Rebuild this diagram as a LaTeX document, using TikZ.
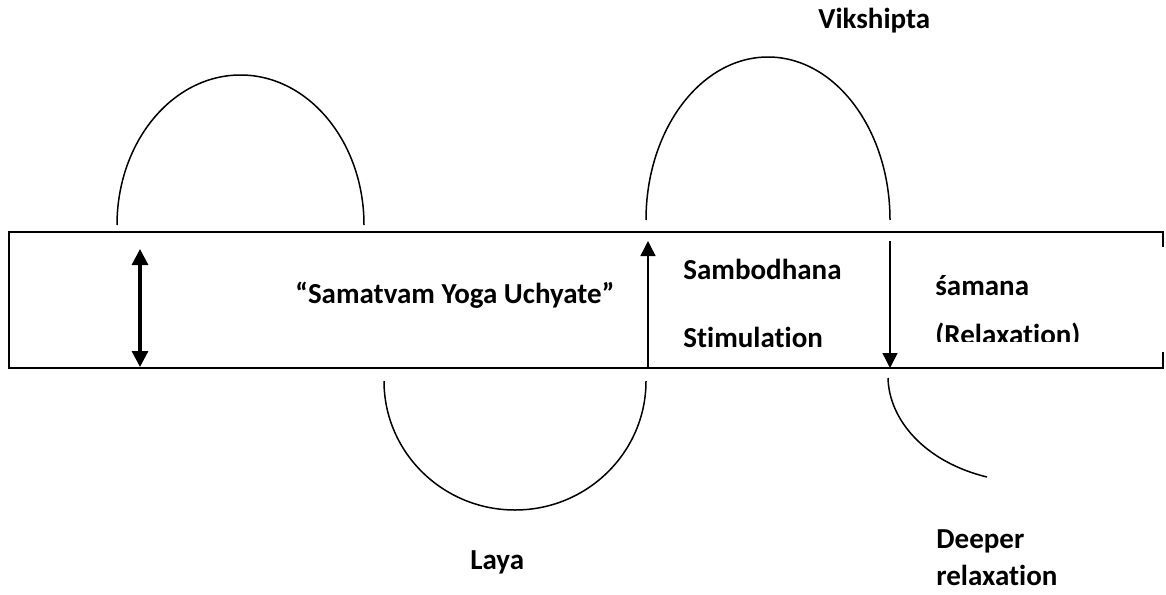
\documentclass[tikz,border=0pt]{standalone}
\usepackage{fontspec}
\setmainfont{Carlito}[Ligatures=NoCommon]
\usetikzlibrary{arrows.meta}
\begin{document}
\begin{tikzpicture}[x=0.5pt,y=-0.5pt,
  lbl/.style={font=\bfseries\fontsize{14.5}{17}\selectfont, inner sep=0pt, anchor=base west},
  wave/.style={line width=0.75pt},
  boxline/.style={line width=1pt},
  thinarrow/.style={line width=0.75pt, -{Triangle[length=7.5pt,width=7.5pt]}},
  thickarrow/.style={line width=1.6pt, {Triangle[length=8pt,width=8pt]}-{Triangle[length=8pt,width=8pt]}}]
\useasboundingbox (0,0) rectangle (1166,594);

% band (its right side is cut off)
\draw[boxline] (1163,247) -- (1163,232) -- (9,232) -- (9,368) -- (1163,368) -- (1163,352);

% waves
\draw[wave] (117,225) arc[start angle=180, end angle=0, x radius=61.75pt, y radius=75pt];
\draw[wave] (384,381) arc[start angle=180, end angle=360, x radius=65.5pt, y radius=64.5pt];
\draw[wave] (646,220) arc[start angle=180, end angle=0, x radius=61pt, y radius=81.5pt];
\coordinate (c0) at (888,378);
\coordinate (c1) at (987,477);
\draw[wave] (c0) .. controls (889,420) and (925,462) .. (c1);

% arrows
\coordinate (d0) at (140,249);
\coordinate (d1) at (140,367);
\draw[thickarrow] (d0) -- (d1);
\coordinate (u0) at (648,368);
\coordinate (u1) at (648,241);
\draw[thinarrow] (u0) -- (u1);
\coordinate (w0) at (890,241);
\coordinate (w1) at (890,368);
\draw[thinarrow] (w0) -- (w1);

% labels
\node[lbl] (vik) at (818,28) {Vikshipta};
\node[lbl] (sam) at (295,303) {“Samatvam Yoga Uchyate”};
\node[lbl] (samb) at (683,279) {Sambodhana};
\node[lbl] (stim) at (683,347) {Stimulation};
\node[lbl] (sama) at (935,295) {śamana};
\begin{scope}
  \clip (900,300) rectangle (1160,341);
  \node[lbl] (relax) at (935,344) {(Relaxation)};
\end{scope}
\node[lbl] (laya) at (470,569) {Laya};
\node[lbl] (deep) at (936,548) {Deeper};
\node[lbl] (relax2) at (936,585) {relaxation};
\end{tikzpicture}
\end{document}
